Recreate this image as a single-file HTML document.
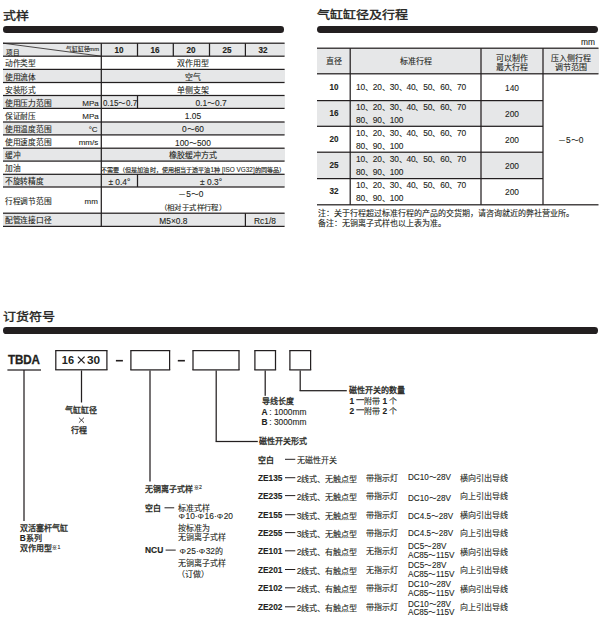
<!DOCTYPE html>
<html lang="zh-CN"><head><meta charset="utf-8">
<style>
html,body{margin:0;padding:0;background:#fff;}
body{width:603px;height:618px;position:relative;overflow:hidden;font-family:"Liberation Sans",sans-serif;}
body>div{position:absolute;}
.t{white-space:nowrap;}
b{font-weight:700;-webkit-text-stroke:0;}
.l{-webkit-text-stroke:0.1px;}
sup{font-size:62%;line-height:1;vertical-align:top;position:relative;top:0.6px;margin-left:0.6px;-webkit-text-stroke:0.15px;}
</style></head><body>
<div class="t" style="left:3.00px;top:8.70px;font-size:12px;line-height:15.60px;font-weight:400;color:#231f20;-webkit-text-stroke:0.372px #231f20;transform:scale(1.0820,0.9417);transform-origin:0 50%;">式样</div>
<div class="t" style="left:317.00px;top:8.40px;font-size:12px;line-height:15.60px;font-weight:400;color:#231f20;-webkit-text-stroke:0.372px #231f20;transform:scale(1.0820,0.9417);transform-origin:0 50%;">气缸缸径及行程</div>
<div class="t" style="left:3.00px;top:309.60px;font-size:12px;line-height:15.60px;font-weight:400;color:#231f20;-webkit-text-stroke:0.372px #231f20;transform:scale(1.0820,0.9417);transform-origin:0 50%;">订货符号</div>
<div style="left:3.30px;top:26.40px;width:280.90px;height:6.50px;background:#231f20;border-radius:3.25px;"></div>
<div style="left:317.00px;top:26.20px;width:281.20px;height:6.80px;background:#231f20;border-radius:3.4000000000000004px;"></div>
<div style="left:3.00px;top:327.30px;width:595.20px;height:6.70px;background:#231f20;border-radius:3.3499999999999943px;"></div>
<div style="left:3.00px;top:43.00px;width:281.60px;height:13.00px;background:#e6e7e8;"></div>
<div style="left:3.00px;top:69.00px;width:281.60px;height:13.00px;background:#e6e7e8;"></div>
<div style="left:3.00px;top:96.00px;width:281.60px;height:12.00px;background:#e6e7e8;"></div>
<div style="left:3.00px;top:122.00px;width:281.60px;height:13.00px;background:#e6e7e8;"></div>
<div style="left:3.00px;top:148.00px;width:281.60px;height:13.00px;background:#e6e7e8;"></div>
<div style="left:3.00px;top:174.00px;width:281.60px;height:13.00px;background:#e6e7e8;"></div>
<div style="left:3.00px;top:213.00px;width:281.60px;height:13.00px;background:#e6e7e8;"></div>
<div style="left:3px;top:42px;width:281px;height:1px;background:rgba(35,31,32,0.425)"></div>
<div style="left:3px;top:43px;width:281px;height:1px;background:rgba(35,31,32,0.825)"></div>
<div style="left:284px;top:42px;width:1px;height:1px;background:rgba(35,31,32,0.255)"></div>
<div style="left:284px;top:43px;width:1px;height:1px;background:rgba(35,31,32,0.495)"></div>
<div style="left:3px;top:55px;width:281px;height:1px;background:rgba(35,31,32,0.425)"></div>
<div style="left:3px;top:56px;width:281px;height:1px;background:rgba(35,31,32,0.825)"></div>
<div style="left:284px;top:55px;width:1px;height:1px;background:rgba(35,31,32,0.255)"></div>
<div style="left:284px;top:56px;width:1px;height:1px;background:rgba(35,31,32,0.495)"></div>
<div style="left:3px;top:68px;width:281px;height:1px;background:rgba(35,31,32,0.225)"></div>
<div style="left:3px;top:69px;width:281px;height:1px;background:rgba(35,31,32,1.000)"></div>
<div style="left:284px;top:68px;width:1px;height:1px;background:rgba(35,31,32,0.135)"></div>
<div style="left:284px;top:69px;width:1px;height:1px;background:rgba(35,31,32,0.600)"></div>
<div style="left:3px;top:81px;width:281px;height:1px;background:rgba(35,31,32,0.125)"></div>
<div style="left:3px;top:82px;width:281px;height:1px;background:rgba(35,31,32,1.000)"></div>
<div style="left:3px;top:83px;width:281px;height:1px;background:rgba(35,31,32,0.125)"></div>
<div style="left:284px;top:81px;width:1px;height:1px;background:rgba(35,31,32,0.075)"></div>
<div style="left:284px;top:82px;width:1px;height:1px;background:rgba(35,31,32,0.600)"></div>
<div style="left:284px;top:83px;width:1px;height:1px;background:rgba(35,31,32,0.075)"></div>
<div style="left:3px;top:94px;width:281px;height:1px;background:rgba(35,31,32,0.125)"></div>
<div style="left:3px;top:95px;width:281px;height:1px;background:rgba(35,31,32,1.000)"></div>
<div style="left:3px;top:96px;width:281px;height:1px;background:rgba(35,31,32,0.125)"></div>
<div style="left:284px;top:94px;width:1px;height:1px;background:rgba(35,31,32,0.075)"></div>
<div style="left:284px;top:95px;width:1px;height:1px;background:rgba(35,31,32,0.600)"></div>
<div style="left:284px;top:96px;width:1px;height:1px;background:rgba(35,31,32,0.075)"></div>
<div style="left:3px;top:107px;width:281px;height:1px;background:rgba(35,31,32,0.225)"></div>
<div style="left:3px;top:108px;width:281px;height:1px;background:rgba(35,31,32,1.000)"></div>
<div style="left:284px;top:107px;width:1px;height:1px;background:rgba(35,31,32,0.135)"></div>
<div style="left:284px;top:108px;width:1px;height:1px;background:rgba(35,31,32,0.600)"></div>
<div style="left:3px;top:121px;width:281px;height:1px;background:rgba(35,31,32,0.625)"></div>
<div style="left:3px;top:122px;width:281px;height:1px;background:rgba(35,31,32,0.625)"></div>
<div style="left:284px;top:121px;width:1px;height:1px;background:rgba(35,31,32,0.375)"></div>
<div style="left:284px;top:122px;width:1px;height:1px;background:rgba(35,31,32,0.375)"></div>
<div style="left:3px;top:134px;width:281px;height:1px;background:rgba(35,31,32,0.725)"></div>
<div style="left:3px;top:135px;width:281px;height:1px;background:rgba(35,31,32,0.525)"></div>
<div style="left:284px;top:134px;width:1px;height:1px;background:rgba(35,31,32,0.435)"></div>
<div style="left:284px;top:135px;width:1px;height:1px;background:rgba(35,31,32,0.315)"></div>
<div style="left:3px;top:147px;width:281px;height:1px;background:rgba(35,31,32,0.425)"></div>
<div style="left:3px;top:148px;width:281px;height:1px;background:rgba(35,31,32,0.825)"></div>
<div style="left:284px;top:147px;width:1px;height:1px;background:rgba(35,31,32,0.255)"></div>
<div style="left:284px;top:148px;width:1px;height:1px;background:rgba(35,31,32,0.495)"></div>
<div style="left:3px;top:160px;width:281px;height:1px;background:rgba(35,31,32,0.525)"></div>
<div style="left:3px;top:161px;width:281px;height:1px;background:rgba(35,31,32,0.725)"></div>
<div style="left:284px;top:160px;width:1px;height:1px;background:rgba(35,31,32,0.315)"></div>
<div style="left:284px;top:161px;width:1px;height:1px;background:rgba(35,31,32,0.435)"></div>
<div style="left:3px;top:173px;width:281px;height:1px;background:rgba(35,31,32,0.325)"></div>
<div style="left:3px;top:174px;width:281px;height:1px;background:rgba(35,31,32,0.925)"></div>
<div style="left:284px;top:173px;width:1px;height:1px;background:rgba(35,31,32,0.195)"></div>
<div style="left:284px;top:174px;width:1px;height:1px;background:rgba(35,31,32,0.555)"></div>
<div style="left:3px;top:186px;width:281px;height:1px;background:rgba(35,31,32,0.625)"></div>
<div style="left:3px;top:187px;width:281px;height:1px;background:rgba(35,31,32,0.625)"></div>
<div style="left:284px;top:186px;width:1px;height:1px;background:rgba(35,31,32,0.375)"></div>
<div style="left:284px;top:187px;width:1px;height:1px;background:rgba(35,31,32,0.375)"></div>
<div style="left:3px;top:212px;width:281px;height:1px;background:rgba(35,31,32,0.425)"></div>
<div style="left:3px;top:213px;width:281px;height:1px;background:rgba(35,31,32,0.825)"></div>
<div style="left:284px;top:212px;width:1px;height:1px;background:rgba(35,31,32,0.255)"></div>
<div style="left:284px;top:213px;width:1px;height:1px;background:rgba(35,31,32,0.495)"></div>
<div style="left:3px;top:225px;width:281px;height:1px;background:rgba(35,31,32,0.225)"></div>
<div style="left:3px;top:226px;width:281px;height:1px;background:rgba(35,31,32,1.000)"></div>
<div style="left:284px;top:225px;width:1px;height:1px;background:rgba(35,31,32,0.135)"></div>
<div style="left:284px;top:226px;width:1px;height:1px;background:rgba(35,31,32,0.600)"></div>
<div style="left:100px;top:43px;width:1px;height:1px;background:rgba(35,31,32,0.260)"></div>
<div style="left:100px;top:44px;width:1px;height:182px;background:rgba(35,31,32,0.325)"></div>
<div style="left:100px;top:226px;width:1px;height:1px;background:rgba(35,31,32,0.130)"></div>
<div style="left:101px;top:43px;width:1px;height:1px;background:rgba(35,31,32,0.740)"></div>
<div style="left:101px;top:44px;width:1px;height:182px;background:rgba(35,31,32,0.925)"></div>
<div style="left:101px;top:226px;width:1px;height:1px;background:rgba(35,31,32,0.370)"></div>
<div style="left:136px;top:43px;width:1px;height:1px;background:rgba(35,31,32,0.100)"></div>
<div style="left:136px;top:44px;width:1px;height:12px;background:rgba(35,31,32,0.125)"></div>
<div style="left:137px;top:43px;width:1px;height:1px;background:rgba(35,31,32,0.800)"></div>
<div style="left:137px;top:44px;width:1px;height:12px;background:rgba(35,31,32,1.000)"></div>
<div style="left:137px;top:56px;width:1px;height:1px;background:rgba(35,31,32,0.200)"></div>
<div style="left:138px;top:43px;width:1px;height:1px;background:rgba(35,31,32,0.100)"></div>
<div style="left:138px;top:44px;width:1px;height:12px;background:rgba(35,31,32,0.125)"></div>
<div style="left:172px;top:43px;width:1px;height:1px;background:rgba(35,31,32,0.260)"></div>
<div style="left:172px;top:44px;width:1px;height:12px;background:rgba(35,31,32,0.325)"></div>
<div style="left:172px;top:56px;width:1px;height:1px;background:rgba(35,31,32,0.065)"></div>
<div style="left:173px;top:43px;width:1px;height:1px;background:rgba(35,31,32,0.740)"></div>
<div style="left:173px;top:44px;width:1px;height:12px;background:rgba(35,31,32,0.925)"></div>
<div style="left:173px;top:56px;width:1px;height:1px;background:rgba(35,31,32,0.185)"></div>
<div style="left:208px;top:43px;width:1px;height:1px;background:rgba(35,31,32,0.100)"></div>
<div style="left:208px;top:44px;width:1px;height:12px;background:rgba(35,31,32,0.125)"></div>
<div style="left:209px;top:43px;width:1px;height:1px;background:rgba(35,31,32,0.800)"></div>
<div style="left:209px;top:44px;width:1px;height:12px;background:rgba(35,31,32,1.000)"></div>
<div style="left:209px;top:56px;width:1px;height:1px;background:rgba(35,31,32,0.200)"></div>
<div style="left:210px;top:43px;width:1px;height:1px;background:rgba(35,31,32,0.100)"></div>
<div style="left:210px;top:44px;width:1px;height:12px;background:rgba(35,31,32,0.125)"></div>
<div style="left:244px;top:43px;width:1px;height:1px;background:rgba(35,31,32,0.180)"></div>
<div style="left:244px;top:44px;width:1px;height:12px;background:rgba(35,31,32,0.225)"></div>
<div style="left:244px;top:56px;width:1px;height:1px;background:rgba(35,31,32,0.045)"></div>
<div style="left:245px;top:43px;width:1px;height:1px;background:rgba(35,31,32,0.800)"></div>
<div style="left:245px;top:44px;width:1px;height:12px;background:rgba(35,31,32,1.000)"></div>
<div style="left:245px;top:56px;width:1px;height:1px;background:rgba(35,31,32,0.200)"></div>
<div style="left:136px;top:95px;width:1px;height:1px;background:rgba(35,31,32,0.062)"></div>
<div style="left:136px;top:96px;width:1px;height:12px;background:rgba(35,31,32,0.125)"></div>
<div style="left:136px;top:108px;width:1px;height:1px;background:rgba(35,31,32,0.050)"></div>
<div style="left:137px;top:95px;width:1px;height:1px;background:rgba(35,31,32,0.500)"></div>
<div style="left:137px;top:96px;width:1px;height:12px;background:rgba(35,31,32,1.000)"></div>
<div style="left:137px;top:108px;width:1px;height:1px;background:rgba(35,31,32,0.400)"></div>
<div style="left:138px;top:95px;width:1px;height:1px;background:rgba(35,31,32,0.062)"></div>
<div style="left:138px;top:96px;width:1px;height:12px;background:rgba(35,31,32,0.125)"></div>
<div style="left:138px;top:108px;width:1px;height:1px;background:rgba(35,31,32,0.050)"></div>
<div style="left:136px;top:174px;width:1px;height:1px;background:rgba(35,31,32,0.087)"></div>
<div style="left:136px;top:175px;width:1px;height:12px;background:rgba(35,31,32,0.125)"></div>
<div style="left:137px;top:174px;width:1px;height:1px;background:rgba(35,31,32,0.700)"></div>
<div style="left:137px;top:175px;width:1px;height:12px;background:rgba(35,31,32,1.000)"></div>
<div style="left:138px;top:174px;width:1px;height:1px;background:rgba(35,31,32,0.087)"></div>
<div style="left:138px;top:175px;width:1px;height:12px;background:rgba(35,31,32,0.125)"></div>
<div style="left:244px;top:213px;width:1px;height:1px;background:rgba(35,31,32,0.180)"></div>
<div style="left:244px;top:214px;width:1px;height:12px;background:rgba(35,31,32,0.225)"></div>
<div style="left:244px;top:226px;width:1px;height:1px;background:rgba(35,31,32,0.090)"></div>
<div style="left:245px;top:213px;width:1px;height:1px;background:rgba(35,31,32,0.800)"></div>
<div style="left:245px;top:214px;width:1px;height:12px;background:rgba(35,31,32,1.000)"></div>
<div style="left:245px;top:226px;width:1px;height:1px;background:rgba(35,31,32,0.400)"></div>
<svg style="position:absolute;left:0;top:0" width="603" height="618"><line x1="3.0" y1="43.2" x2="101.3" y2="56.2" stroke="#231f20" stroke-width="0.8"/></svg>
<div class="t" style="left:6.00px;top:47.65px;font-size:7px;line-height:9.10px;font-weight:400;color:#231f20;-webkit-text-stroke:0.127px #231f20;transform:scale(0.9429,0.9429);transform-origin:0 50%;">项目</div>
<div class="t" style="left:-500.70px;width:600px;text-align:right;top:45.60px;font-size:6px;line-height:7.80px;font-weight:400;color:#231f20;-webkit-text-stroke:0.124px #231f20;transform:scale(0.9667,0.9667);transform-origin:100% 50%;">气缸缸径mm</div>
<div class="t" style="left:-180.80px;width:600px;text-align:center;top:44.65px;font-size:9px;line-height:11.70px;font-weight:700;color:#231f20;-webkit-text-stroke:0.150px #231f20;transform:scale(0.9000,1.0000);transform-origin:50% 50%;">10</div>
<div class="t" style="left:-145.10px;width:600px;text-align:center;top:44.65px;font-size:9px;line-height:11.70px;font-weight:700;color:#231f20;-webkit-text-stroke:0.150px #231f20;transform:scale(0.9000,1.0000);transform-origin:50% 50%;">16</div>
<div class="t" style="left:-109.00px;width:600px;text-align:center;top:44.65px;font-size:9px;line-height:11.70px;font-weight:700;color:#231f20;-webkit-text-stroke:0.150px #231f20;transform:scale(0.9000,1.0000);transform-origin:50% 50%;">20</div>
<div class="t" style="left:-73.00px;width:600px;text-align:center;top:44.65px;font-size:9px;line-height:11.70px;font-weight:700;color:#231f20;-webkit-text-stroke:0.150px #231f20;transform:scale(0.9000,1.0000);transform-origin:50% 50%;">25</div>
<div class="t" style="left:-37.10px;width:600px;text-align:center;top:44.65px;font-size:9px;line-height:11.70px;font-weight:700;color:#231f20;-webkit-text-stroke:0.150px #231f20;transform:scale(0.9000,1.0000);transform-origin:50% 50%;">32</div>
<div class="t" style="left:5.20px;top:59.40px;font-size:8px;line-height:10.40px;font-weight:400;color:#231f20;-webkit-text-stroke:0.104px #231f20;transform:scale(0.9625,0.9625);transform-origin:0 50%;">动作类型</div>
<div class="t" style="left:5.20px;top:72.55px;font-size:8px;line-height:10.40px;font-weight:400;color:#231f20;-webkit-text-stroke:0.104px #231f20;transform:scale(0.9625,0.9625);transform-origin:0 50%;">使用流体</div>
<div class="t" style="left:5.20px;top:85.60px;font-size:8px;line-height:10.40px;font-weight:400;color:#231f20;-webkit-text-stroke:0.104px #231f20;transform:scale(0.9625,0.9625);transform-origin:0 50%;">安装形式</div>
<div class="t" style="left:5.20px;top:98.55px;font-size:8px;line-height:10.40px;font-weight:400;color:#231f20;-webkit-text-stroke:0.104px #231f20;transform:scale(0.9625,0.9625);transform-origin:0 50%;">使用压力范围</div>
<div class="t" style="left:-501.20px;width:600px;text-align:right;top:98.75px;font-size:8px;line-height:10.40px;font-weight:400;color:#231f20;-webkit-text-stroke:0.100px #231f20;">MPa</div>
<div class="t" style="left:5.20px;top:111.80px;font-size:8px;line-height:10.40px;font-weight:400;color:#231f20;-webkit-text-stroke:0.104px #231f20;transform:scale(0.9625,0.9625);transform-origin:0 50%;">保证耐压</div>
<div class="t" style="left:-501.20px;width:600px;text-align:right;top:112.00px;font-size:8px;line-height:10.40px;font-weight:400;color:#231f20;-webkit-text-stroke:0.100px #231f20;">MPa</div>
<div class="t" style="left:5.20px;top:125.05px;font-size:8px;line-height:10.40px;font-weight:400;color:#231f20;-webkit-text-stroke:0.104px #231f20;transform:scale(0.9625,0.9625);transform-origin:0 50%;">使用温度范围</div>
<div class="t" style="left:-502.40px;width:600px;text-align:right;top:125.25px;font-size:8px;line-height:10.40px;font-weight:400;color:#231f20;-webkit-text-stroke:0.100px #231f20;">°C</div>
<div class="t" style="left:5.20px;top:138.15px;font-size:8px;line-height:10.40px;font-weight:400;color:#231f20;-webkit-text-stroke:0.104px #231f20;transform:scale(0.9625,0.9625);transform-origin:0 50%;">使用速度范围</div>
<div class="t" style="left:-501.80px;width:600px;text-align:right;top:138.35px;font-size:8px;line-height:10.40px;font-weight:400;color:#231f20;-webkit-text-stroke:0.100px #231f20;">mm/s</div>
<div class="t" style="left:5.20px;top:151.25px;font-size:8px;line-height:10.40px;font-weight:400;color:#231f20;-webkit-text-stroke:0.104px #231f20;transform:scale(0.9625,0.9625);transform-origin:0 50%;">缓冲</div>
<div class="t" style="left:5.20px;top:164.30px;font-size:8px;line-height:10.40px;font-weight:400;color:#231f20;-webkit-text-stroke:0.104px #231f20;transform:scale(0.9625,0.9625);transform-origin:0 50%;">加油</div>
<div class="t" style="left:5.20px;top:177.25px;font-size:8px;line-height:10.40px;font-weight:400;color:#231f20;-webkit-text-stroke:0.104px #231f20;transform:scale(0.9625,0.9625);transform-origin:0 50%;">不旋转精度</div>
<div class="t" style="left:5.20px;top:196.70px;font-size:8px;line-height:10.40px;font-weight:400;color:#231f20;-webkit-text-stroke:0.104px #231f20;transform:scale(0.9625,0.9625);transform-origin:0 50%;">行程调节范围</div>
<div class="t" style="left:-502.10px;width:600px;text-align:right;top:196.90px;font-size:8px;line-height:10.40px;font-weight:400;color:#231f20;-webkit-text-stroke:0.100px #231f20;">mm</div>
<div class="t" style="left:5.20px;top:216.40px;font-size:8px;line-height:10.40px;font-weight:400;color:#231f20;-webkit-text-stroke:0.104px #231f20;transform:scale(0.9625,0.9625);transform-origin:0 50%;">配管连接口径</div>
<div class="t" style="left:-107.05px;width:600px;text-align:center;top:59.40px;font-size:8px;line-height:10.40px;font-weight:400;color:#231f20;-webkit-text-stroke:0.100px #231f20;">双作用型</div>
<div class="t" style="left:-107.05px;width:600px;text-align:center;top:72.55px;font-size:8px;line-height:10.40px;font-weight:400;color:#231f20;-webkit-text-stroke:0.100px #231f20;">空气</div>
<div class="t" style="left:-107.05px;width:600px;text-align:center;top:85.60px;font-size:8px;line-height:10.40px;font-weight:400;color:#231f20;-webkit-text-stroke:0.100px #231f20;">单侧支架</div>
<div class="t" style="left:-180.40px;width:600px;text-align:center;top:97.95px;font-size:8px;line-height:10.40px;font-weight:400;color:#231f20;-webkit-text-stroke:0.100px #231f20;transform:scale(0.9500,1.0000);transform-origin:50% 50%;"><span class="l" style="font-size:1.05em">0.15</span>～<span class="l" style="font-size:1.05em">0.7</span></div>
<div class="t" style="left:-88.95px;width:600px;text-align:center;top:97.95px;font-size:8px;line-height:10.40px;font-weight:400;color:#231f20;-webkit-text-stroke:0.100px #231f20;"><span class="l" style="font-size:1.05em">0.1</span>～<span class="l" style="font-size:1.05em">0.7</span></div>
<div class="t" style="left:-107.05px;width:600px;text-align:center;top:111.20px;font-size:8px;line-height:10.40px;font-weight:400;color:#231f20;-webkit-text-stroke:0.100px #231f20;"><span class="l" style="font-size:1.05em">1.05</span></div>
<div class="t" style="left:-107.05px;width:600px;text-align:center;top:124.45px;font-size:8px;line-height:10.40px;font-weight:400;color:#231f20;-webkit-text-stroke:0.100px #231f20;"><span class="l" style="font-size:1.05em">0</span>～<span class="l" style="font-size:1.05em">60</span></div>
<div class="t" style="left:-107.05px;width:600px;text-align:center;top:137.55px;font-size:8px;line-height:10.40px;font-weight:400;color:#231f20;-webkit-text-stroke:0.100px #231f20;"><span class="l" style="font-size:1.05em">100</span>～<span class="l" style="font-size:1.05em">500</span></div>
<div class="t" style="left:-107.05px;width:600px;text-align:center;top:151.25px;font-size:8px;line-height:10.40px;font-weight:400;color:#231f20;-webkit-text-stroke:0.100px #231f20;">橡胶缓冲方式</div>
<div class="t" style="left:-106.70px;width:600px;text-align:center;top:164.85px;font-size:7px;line-height:9.10px;font-weight:400;color:#231f20;-webkit-text-stroke:0.172px #231f20;transform:scale(0.8714,0.8714);transform-origin:50% 50%;">不需要（但是加油时，使用相当于透平油<span class="l" style="font-size:1.05em">1</span>种 <span class="l" style="font-size:1.05em">[ISO VG32]</span>的同等品）</div>
<div class="t" style="left:-180.60px;width:600px;text-align:center;top:176.65px;font-size:8px;line-height:10.40px;font-weight:400;color:#231f20;-webkit-text-stroke:0.100px #231f20;"><span class="l" style="font-size:1.05em">± 0.4</span><span class="l" style="font-size:1.05em">°</span></div>
<div class="t" style="left:-88.95px;width:600px;text-align:center;top:176.65px;font-size:8px;line-height:10.40px;font-weight:400;color:#231f20;-webkit-text-stroke:0.100px #231f20;"><span class="l" style="font-size:1.05em">± 0.3</span><span class="l" style="font-size:1.05em">°</span></div>
<div class="t" style="left:-109.20px;width:600px;text-align:center;top:189.00px;font-size:8px;line-height:10.40px;font-weight:400;color:#231f20;-webkit-text-stroke:0.100px #231f20;">－<span class="l" style="font-size:1.05em">5</span>～<span class="l" style="font-size:1.05em">0</span></div>
<div class="t" style="left:-107.05px;width:600px;text-align:center;top:202.70px;font-size:8px;line-height:10.40px;font-weight:400;color:#231f20;-webkit-text-stroke:0.108px #231f20;transform:scale(0.9250,0.9250);transform-origin:50% 50%;">（相对于式样行程）</div>
<div class="t" style="left:-126.65px;width:600px;text-align:center;top:215.80px;font-size:8px;line-height:10.40px;font-weight:400;color:#231f20;-webkit-text-stroke:0.100px #231f20;"><span class="l" style="font-size:1.05em">M5×0.8</span></div>
<div class="t" style="left:-35.00px;width:600px;text-align:center;top:215.80px;font-size:8px;line-height:10.40px;font-weight:400;color:#231f20;-webkit-text-stroke:0.100px #231f20;"><span class="l" style="font-size:1.05em">Rc1/8</span></div>
<div class="t" style="left:-4.70px;width:600px;text-align:right;top:36.75px;font-size:9px;line-height:11.70px;font-weight:400;color:#231f20;-webkit-text-stroke:0.107px #231f20;transform:scale(0.9333,0.9333);transform-origin:100% 50%;">mm</div>
<div style="left:317.00px;top:48.00px;width:281.50px;height:26.00px;background:#e6e7e8;"></div>
<div style="left:317.00px;top:101.00px;width:226.00px;height:25.00px;background:#e6e7e8;"></div>
<div style="left:317.00px;top:152.00px;width:226.00px;height:27.00px;background:#e6e7e8;"></div>
<div style="left:317px;top:47px;width:281px;height:1px;background:rgba(35,31,32,0.425)"></div>
<div style="left:317px;top:48px;width:281px;height:1px;background:rgba(35,31,32,0.825)"></div>
<div style="left:598px;top:47px;width:1px;height:1px;background:rgba(35,31,32,0.212)"></div>
<div style="left:598px;top:48px;width:1px;height:1px;background:rgba(35,31,32,0.413)"></div>
<div style="left:317px;top:73px;width:281px;height:1px;background:rgba(35,31,32,0.825)"></div>
<div style="left:317px;top:74px;width:281px;height:1px;background:rgba(35,31,32,0.425)"></div>
<div style="left:598px;top:73px;width:1px;height:1px;background:rgba(35,31,32,0.413)"></div>
<div style="left:598px;top:74px;width:1px;height:1px;background:rgba(35,31,32,0.212)"></div>
<div style="left:317px;top:100px;width:226px;height:1px;background:rgba(35,31,32,1.000)"></div>
<div style="left:317px;top:101px;width:226px;height:1px;background:rgba(35,31,32,0.225)"></div>
<div style="left:317px;top:125px;width:226px;height:1px;background:rgba(35,31,32,0.325)"></div>
<div style="left:317px;top:126px;width:226px;height:1px;background:rgba(35,31,32,0.925)"></div>
<div style="left:317px;top:151px;width:226px;height:1px;background:rgba(35,31,32,0.425)"></div>
<div style="left:317px;top:152px;width:226px;height:1px;background:rgba(35,31,32,0.825)"></div>
<div style="left:317px;top:178px;width:226px;height:1px;background:rgba(35,31,32,1.000)"></div>
<div style="left:317px;top:179px;width:226px;height:1px;background:rgba(35,31,32,0.225)"></div>
<div style="left:317px;top:204px;width:281px;height:1px;background:rgba(35,31,32,0.825)"></div>
<div style="left:317px;top:205px;width:281px;height:1px;background:rgba(35,31,32,0.425)"></div>
<div style="left:598px;top:204px;width:1px;height:1px;background:rgba(35,31,32,0.412)"></div>
<div style="left:598px;top:205px;width:1px;height:1px;background:rgba(35,31,32,0.213)"></div>
<div style="left:349px;top:48px;width:1px;height:1px;background:rgba(35,31,32,0.340)"></div>
<div style="left:349px;top:49px;width:1px;height:155px;background:rgba(35,31,32,0.425)"></div>
<div style="left:349px;top:204px;width:1px;height:1px;background:rgba(35,31,32,0.340)"></div>
<div style="left:350px;top:48px;width:1px;height:1px;background:rgba(35,31,32,0.660)"></div>
<div style="left:350px;top:49px;width:1px;height:155px;background:rgba(35,31,32,0.825)"></div>
<div style="left:350px;top:204px;width:1px;height:1px;background:rgba(35,31,32,0.660)"></div>
<div style="left:480px;top:48px;width:1px;height:1px;background:rgba(35,31,32,0.500)"></div>
<div style="left:480px;top:49px;width:1px;height:155px;background:rgba(35,31,32,0.625)"></div>
<div style="left:480px;top:204px;width:1px;height:1px;background:rgba(35,31,32,0.500)"></div>
<div style="left:481px;top:48px;width:1px;height:1px;background:rgba(35,31,32,0.500)"></div>
<div style="left:481px;top:49px;width:1px;height:155px;background:rgba(35,31,32,0.625)"></div>
<div style="left:481px;top:204px;width:1px;height:1px;background:rgba(35,31,32,0.500)"></div>
<div style="left:542px;top:48px;width:1px;height:1px;background:rgba(35,31,32,0.500)"></div>
<div style="left:542px;top:49px;width:1px;height:155px;background:rgba(35,31,32,0.625)"></div>
<div style="left:542px;top:204px;width:1px;height:1px;background:rgba(35,31,32,0.500)"></div>
<div style="left:543px;top:48px;width:1px;height:1px;background:rgba(35,31,32,0.500)"></div>
<div style="left:543px;top:49px;width:1px;height:155px;background:rgba(35,31,32,0.625)"></div>
<div style="left:543px;top:204px;width:1px;height:1px;background:rgba(35,31,32,0.500)"></div>
<div class="t" style="left:33.60px;width:600px;text-align:center;top:56.70px;font-size:8px;line-height:10.40px;font-weight:400;color:#231f20;-webkit-text-stroke:0.100px #231f20;">直径</div>
<div class="t" style="left:115.60px;width:600px;text-align:center;top:56.70px;font-size:8px;line-height:10.40px;font-weight:400;color:#231f20;-webkit-text-stroke:0.100px #231f20;">标准行程</div>
<div class="t" style="left:212.00px;width:600px;text-align:center;top:53.60px;font-size:8px;line-height:10.40px;font-weight:400;color:#231f20;-webkit-text-stroke:0.100px #231f20;">可以制作</div>
<div class="t" style="left:212.00px;width:600px;text-align:center;top:63.00px;font-size:8px;line-height:10.40px;font-weight:400;color:#231f20;-webkit-text-stroke:0.100px #231f20;">最大行程</div>
<div class="t" style="left:270.75px;width:600px;text-align:center;top:53.60px;font-size:8px;line-height:10.40px;font-weight:400;color:#231f20;-webkit-text-stroke:0.100px #231f20;">压入侧行程</div>
<div class="t" style="left:270.75px;width:600px;text-align:center;top:63.00px;font-size:8px;line-height:10.40px;font-weight:400;color:#231f20;-webkit-text-stroke:0.100px #231f20;">调节范围</div>
<div class="t" style="left:33.60px;width:600px;text-align:center;top:81.85px;font-size:9px;line-height:11.70px;font-weight:700;color:#231f20;-webkit-text-stroke:0.120px #231f20;transform:scale(0.9000,1.0000);transform-origin:50% 50%;">10</div>
<div class="t" style="left:212.00px;width:600px;text-align:center;top:82.90px;font-size:8px;line-height:10.40px;font-weight:400;color:#231f20;-webkit-text-stroke:0.100px #231f20;"><span class="l" style="font-size:1.05em">140</span></div>
<div class="t" style="left:356.00px;top:82.10px;font-size:8px;line-height:10.40px;font-weight:400;color:#231f20;letter-spacing:-0.17px;-webkit-text-stroke:0.100px #231f20;"><span class="l" style="font-size:1.05em">10</span>、<span class="l" style="font-size:1.05em">20</span>、<span class="l" style="font-size:1.05em">30</span>、<span class="l" style="font-size:1.05em">40</span>、<span class="l" style="font-size:1.05em">50</span>、<span class="l" style="font-size:1.05em">60</span>、<span class="l" style="font-size:1.05em">70</span></div>
<div class="t" style="left:33.60px;width:600px;text-align:center;top:108.10px;font-size:9px;line-height:11.70px;font-weight:700;color:#231f20;-webkit-text-stroke:0.120px #231f20;transform:scale(0.9000,1.0000);transform-origin:50% 50%;">16</div>
<div class="t" style="left:212.00px;width:600px;text-align:center;top:109.15px;font-size:8px;line-height:10.40px;font-weight:400;color:#231f20;-webkit-text-stroke:0.100px #231f20;"><span class="l" style="font-size:1.05em">200</span></div>
<div class="t" style="left:356.00px;top:101.85px;font-size:8px;line-height:10.40px;font-weight:400;color:#231f20;letter-spacing:-0.17px;-webkit-text-stroke:0.100px #231f20;"><span class="l" style="font-size:1.05em">10</span>、<span class="l" style="font-size:1.05em">20</span>、<span class="l" style="font-size:1.05em">30</span>、<span class="l" style="font-size:1.05em">40</span>、<span class="l" style="font-size:1.05em">50</span>、<span class="l" style="font-size:1.05em">60</span>、<span class="l" style="font-size:1.05em">70</span></div>
<div class="t" style="left:356.00px;top:115.15px;font-size:8px;line-height:10.40px;font-weight:400;color:#231f20;letter-spacing:-0.17px;-webkit-text-stroke:0.100px #231f20;"><span class="l" style="font-size:1.05em">80</span>、<span class="l" style="font-size:1.05em">90</span>、<span class="l" style="font-size:1.05em">100</span></div>
<div class="t" style="left:33.60px;width:600px;text-align:center;top:133.90px;font-size:9px;line-height:11.70px;font-weight:700;color:#231f20;-webkit-text-stroke:0.120px #231f20;transform:scale(0.9000,1.0000);transform-origin:50% 50%;">20</div>
<div class="t" style="left:212.00px;width:600px;text-align:center;top:134.95px;font-size:8px;line-height:10.40px;font-weight:400;color:#231f20;-webkit-text-stroke:0.100px #231f20;"><span class="l" style="font-size:1.05em">200</span></div>
<div class="t" style="left:356.00px;top:127.65px;font-size:8px;line-height:10.40px;font-weight:400;color:#231f20;letter-spacing:-0.17px;-webkit-text-stroke:0.100px #231f20;"><span class="l" style="font-size:1.05em">10</span>、<span class="l" style="font-size:1.05em">20</span>、<span class="l" style="font-size:1.05em">30</span>、<span class="l" style="font-size:1.05em">40</span>、<span class="l" style="font-size:1.05em">50</span>、<span class="l" style="font-size:1.05em">60</span>、<span class="l" style="font-size:1.05em">70</span></div>
<div class="t" style="left:356.00px;top:140.95px;font-size:8px;line-height:10.40px;font-weight:400;color:#231f20;letter-spacing:-0.17px;-webkit-text-stroke:0.100px #231f20;"><span class="l" style="font-size:1.05em">80</span>、<span class="l" style="font-size:1.05em">90</span>、<span class="l" style="font-size:1.05em">100</span></div>
<div class="t" style="left:33.60px;width:600px;text-align:center;top:160.05px;font-size:9px;line-height:11.70px;font-weight:700;color:#231f20;-webkit-text-stroke:0.120px #231f20;transform:scale(0.9000,1.0000);transform-origin:50% 50%;">25</div>
<div class="t" style="left:212.00px;width:600px;text-align:center;top:161.10px;font-size:8px;line-height:10.40px;font-weight:400;color:#231f20;-webkit-text-stroke:0.100px #231f20;"><span class="l" style="font-size:1.05em">200</span></div>
<div class="t" style="left:356.00px;top:153.80px;font-size:8px;line-height:10.40px;font-weight:400;color:#231f20;letter-spacing:-0.17px;-webkit-text-stroke:0.100px #231f20;"><span class="l" style="font-size:1.05em">10</span>、<span class="l" style="font-size:1.05em">20</span>、<span class="l" style="font-size:1.05em">30</span>、<span class="l" style="font-size:1.05em">40</span>、<span class="l" style="font-size:1.05em">50</span>、<span class="l" style="font-size:1.05em">60</span>、<span class="l" style="font-size:1.05em">70</span></div>
<div class="t" style="left:356.00px;top:167.10px;font-size:8px;line-height:10.40px;font-weight:400;color:#231f20;letter-spacing:-0.17px;-webkit-text-stroke:0.100px #231f20;"><span class="l" style="font-size:1.05em">80</span>、<span class="l" style="font-size:1.05em">90</span>、<span class="l" style="font-size:1.05em">100</span></div>
<div class="t" style="left:33.60px;width:600px;text-align:center;top:186.35px;font-size:9px;line-height:11.70px;font-weight:700;color:#231f20;-webkit-text-stroke:0.120px #231f20;transform:scale(0.9000,1.0000);transform-origin:50% 50%;">32</div>
<div class="t" style="left:212.00px;width:600px;text-align:center;top:187.40px;font-size:8px;line-height:10.40px;font-weight:400;color:#231f20;-webkit-text-stroke:0.100px #231f20;"><span class="l" style="font-size:1.05em">200</span></div>
<div class="t" style="left:356.00px;top:180.10px;font-size:8px;line-height:10.40px;font-weight:400;color:#231f20;letter-spacing:-0.17px;-webkit-text-stroke:0.100px #231f20;"><span class="l" style="font-size:1.05em">10</span>、<span class="l" style="font-size:1.05em">20</span>、<span class="l" style="font-size:1.05em">30</span>、<span class="l" style="font-size:1.05em">40</span>、<span class="l" style="font-size:1.05em">50</span>、<span class="l" style="font-size:1.05em">60</span>、<span class="l" style="font-size:1.05em">70</span></div>
<div class="t" style="left:356.00px;top:193.40px;font-size:8px;line-height:10.40px;font-weight:400;color:#231f20;letter-spacing:-0.17px;-webkit-text-stroke:0.100px #231f20;"><span class="l" style="font-size:1.05em">80</span>、<span class="l" style="font-size:1.05em">90</span>、<span class="l" style="font-size:1.05em">100</span></div>
<div class="t" style="left:270.75px;width:600px;text-align:center;top:135.00px;font-size:8px;line-height:10.40px;font-weight:400;color:#231f20;-webkit-text-stroke:0.100px #231f20;">－<span class="l" style="font-size:1.05em">5</span>～<span class="l" style="font-size:1.05em">0</span></div>
<div class="t" style="left:317.50px;top:209.10px;font-size:8px;line-height:10.40px;font-weight:400;color:#231f20;-webkit-text-stroke:0.100px #231f20;">注：关于行程超过标准行程的产品的交货期，请咨询就近的弊社营业所。</div>
<div class="t" style="left:317.50px;top:219.30px;font-size:8px;line-height:10.40px;font-weight:400;color:#231f20;-webkit-text-stroke:0.100px #231f20;">备注：无铜离子式样也以上表为准。</div>
<div class="t" style="left:7.90px;top:352.25px;font-size:13px;line-height:16.90px;font-weight:700;color:#231f20;letter-spacing:-0.2px;-webkit-text-stroke:0.315px #231f20;transform:scale(0.8966,0.9538);transform-origin:0 50%;">TBDA</div>
<div style="left:7px;top:369px;width:1px;height:1px;background:rgba(35,31,32,0.375)"></div>
<div style="left:7px;top:370px;width:1px;height:1px;background:rgba(35,31,32,0.375)"></div>
<div style="left:8px;top:369px;width:33px;height:1px;background:rgba(35,31,32,0.625)"></div>
<div style="left:8px;top:370px;width:33px;height:1px;background:rgba(35,31,32,0.625)"></div>
<div style="left:55px;top:350px;width:1px;height:1px;background:rgba(35,31,32,0.825)"></div>
<div style="left:55px;top:351px;width:1px;height:1px;background:rgba(35,31,32,0.186)"></div>
<div style="left:56px;top:350px;width:51px;height:1px;background:rgba(35,31,32,1.000)"></div>
<div style="left:56px;top:351px;width:51px;height:1px;background:rgba(35,31,32,0.225)"></div>
<div style="left:107px;top:350px;width:1px;height:1px;background:rgba(35,31,32,0.525)"></div>
<div style="left:107px;top:351px;width:1px;height:1px;background:rgba(35,31,32,0.118)"></div>
<div style="left:55px;top:369px;width:1px;height:1px;background:rgba(35,31,32,0.681)"></div>
<div style="left:55px;top:370px;width:1px;height:1px;background:rgba(35,31,32,0.351)"></div>
<div style="left:56px;top:369px;width:51px;height:1px;background:rgba(35,31,32,0.825)"></div>
<div style="left:56px;top:370px;width:51px;height:1px;background:rgba(35,31,32,0.425)"></div>
<div style="left:107px;top:369px;width:1px;height:1px;background:rgba(35,31,32,0.433)"></div>
<div style="left:107px;top:370px;width:1px;height:1px;background:rgba(35,31,32,0.223)"></div>
<div style="left:55px;top:350px;width:1px;height:1px;background:rgba(35,31,32,0.330)"></div>
<div style="left:55px;top:351px;width:1px;height:18px;background:rgba(35,31,32,0.825)"></div>
<div style="left:55px;top:369px;width:1px;height:1px;background:rgba(35,31,32,0.660)"></div>
<div style="left:56px;top:350px;width:1px;height:1px;background:rgba(35,31,32,0.170)"></div>
<div style="left:56px;top:351px;width:1px;height:18px;background:rgba(35,31,32,0.425)"></div>
<div style="left:56px;top:369px;width:1px;height:1px;background:rgba(35,31,32,0.340)"></div>
<div style="left:106px;top:350px;width:1px;height:1px;background:rgba(35,31,32,0.290)"></div>
<div style="left:106px;top:351px;width:1px;height:18px;background:rgba(35,31,32,0.725)"></div>
<div style="left:106px;top:369px;width:1px;height:1px;background:rgba(35,31,32,0.580)"></div>
<div style="left:107px;top:350px;width:1px;height:1px;background:rgba(35,31,32,0.210)"></div>
<div style="left:107px;top:351px;width:1px;height:18px;background:rgba(35,31,32,0.525)"></div>
<div style="left:107px;top:369px;width:1px;height:1px;background:rgba(35,31,32,0.420)"></div>
<div class="t" style="left:-525.70px;width:600px;text-align:right;top:353.10px;font-size:12px;line-height:15.60px;font-weight:700;color:#231f20;transform:scale(0.9145,0.9833);transform-origin:100% 50%;">16</div>
<div class="t" style="left:86.50px;top:353.10px;font-size:12px;line-height:15.60px;font-weight:700;color:#231f20;transform:scale(0.9833,0.9833);transform-origin:0 50%;">30</div>
<svg style="position:absolute;left:0;top:0" width="603" height="618"><path d="M77.9 356.6L84.6 363.4M84.6 356.6L77.9 363.4" stroke="#231f20" stroke-width="1.25" fill="none"/></svg>
<div style="left:115px;top:360px;width:1px;height:1px;background:rgba(35,31,32,0.100)"></div>
<div style="left:115px;top:361px;width:1px;height:1px;background:rgba(35,31,32,0.050)"></div>
<div style="left:116px;top:359px;width:6px;height:1px;background:rgba(35,31,32,0.100)"></div>
<div style="left:116px;top:360px;width:6px;height:1px;background:rgba(35,31,32,1.000)"></div>
<div style="left:116px;top:361px;width:6px;height:1px;background:rgba(35,31,32,0.500)"></div>
<div style="left:122px;top:359px;width:1px;height:1px;background:rgba(35,31,32,0.090)"></div>
<div style="left:122px;top:360px;width:1px;height:1px;background:rgba(35,31,32,0.900)"></div>
<div style="left:122px;top:361px;width:1px;height:1px;background:rgba(35,31,32,0.450)"></div>
<div style="left:177px;top:360px;width:1px;height:1px;background:rgba(35,31,32,0.200)"></div>
<div style="left:177px;top:361px;width:1px;height:1px;background:rgba(35,31,32,0.100)"></div>
<div style="left:178px;top:359px;width:6px;height:1px;background:rgba(35,31,32,0.100)"></div>
<div style="left:178px;top:360px;width:6px;height:1px;background:rgba(35,31,32,1.000)"></div>
<div style="left:178px;top:361px;width:6px;height:1px;background:rgba(35,31,32,0.500)"></div>
<div style="left:184px;top:359px;width:1px;height:1px;background:rgba(35,31,32,0.090)"></div>
<div style="left:184px;top:360px;width:1px;height:1px;background:rgba(35,31,32,0.900)"></div>
<div style="left:184px;top:361px;width:1px;height:1px;background:rgba(35,31,32,0.450)"></div>
<div style="left:130px;top:350px;width:1px;height:1px;background:rgba(35,31,32,0.725)"></div>
<div style="left:130px;top:351px;width:1px;height:1px;background:rgba(35,31,32,0.163)"></div>
<div style="left:131px;top:350px;width:39px;height:1px;background:rgba(35,31,32,1.000)"></div>
<div style="left:131px;top:351px;width:39px;height:1px;background:rgba(35,31,32,0.225)"></div>
<div style="left:170px;top:350px;width:1px;height:1px;background:rgba(35,31,32,0.225)"></div>
<div style="left:170px;top:351px;width:1px;height:1px;background:rgba(35,31,32,0.051)"></div>
<div style="left:130px;top:369px;width:1px;height:1px;background:rgba(35,31,32,0.526)"></div>
<div style="left:130px;top:370px;width:1px;height:1px;background:rgba(35,31,32,0.381)"></div>
<div style="left:131px;top:369px;width:39px;height:1px;background:rgba(35,31,32,0.725)"></div>
<div style="left:131px;top:370px;width:39px;height:1px;background:rgba(35,31,32,0.525)"></div>
<div style="left:170px;top:369px;width:1px;height:1px;background:rgba(35,31,32,0.163)"></div>
<div style="left:170px;top:370px;width:1px;height:1px;background:rgba(35,31,32,0.118)"></div>
<div style="left:130px;top:350px;width:1px;height:1px;background:rgba(35,31,32,0.290)"></div>
<div style="left:130px;top:351px;width:1px;height:18px;background:rgba(35,31,32,0.725)"></div>
<div style="left:130px;top:369px;width:1px;height:1px;background:rgba(35,31,32,0.652)"></div>
<div style="left:131px;top:350px;width:1px;height:1px;background:rgba(35,31,32,0.210)"></div>
<div style="left:131px;top:351px;width:1px;height:18px;background:rgba(35,31,32,0.525)"></div>
<div style="left:131px;top:369px;width:1px;height:1px;background:rgba(35,31,32,0.472)"></div>
<div style="left:169px;top:350px;width:1px;height:1px;background:rgba(35,31,32,0.400)"></div>
<div style="left:169px;top:351px;width:1px;height:18px;background:rgba(35,31,32,1.000)"></div>
<div style="left:169px;top:369px;width:1px;height:1px;background:rgba(35,31,32,0.900)"></div>
<div style="left:170px;top:350px;width:1px;height:1px;background:rgba(35,31,32,0.090)"></div>
<div style="left:170px;top:351px;width:1px;height:18px;background:rgba(35,31,32,0.225)"></div>
<div style="left:170px;top:369px;width:1px;height:1px;background:rgba(35,31,32,0.202)"></div>
<div style="left:192px;top:350px;width:1px;height:1px;background:rgba(35,31,32,0.625)"></div>
<div style="left:192px;top:351px;width:1px;height:1px;background:rgba(35,31,32,0.141)"></div>
<div style="left:193px;top:350px;width:46px;height:1px;background:rgba(35,31,32,1.000)"></div>
<div style="left:193px;top:351px;width:46px;height:1px;background:rgba(35,31,32,0.225)"></div>
<div style="left:239px;top:350px;width:1px;height:1px;background:rgba(35,31,32,0.625)"></div>
<div style="left:239px;top:351px;width:1px;height:1px;background:rgba(35,31,32,0.141)"></div>
<div style="left:192px;top:369px;width:1px;height:1px;background:rgba(35,31,32,0.453)"></div>
<div style="left:192px;top:370px;width:1px;height:1px;background:rgba(35,31,32,0.328)"></div>
<div style="left:193px;top:369px;width:46px;height:1px;background:rgba(35,31,32,0.725)"></div>
<div style="left:193px;top:370px;width:46px;height:1px;background:rgba(35,31,32,0.525)"></div>
<div style="left:239px;top:369px;width:1px;height:1px;background:rgba(35,31,32,0.453)"></div>
<div style="left:239px;top:370px;width:1px;height:1px;background:rgba(35,31,32,0.328)"></div>
<div style="left:192px;top:350px;width:1px;height:1px;background:rgba(35,31,32,0.250)"></div>
<div style="left:192px;top:351px;width:1px;height:18px;background:rgba(35,31,32,0.625)"></div>
<div style="left:192px;top:369px;width:1px;height:1px;background:rgba(35,31,32,0.562)"></div>
<div style="left:193px;top:350px;width:1px;height:1px;background:rgba(35,31,32,0.250)"></div>
<div style="left:193px;top:351px;width:1px;height:18px;background:rgba(35,31,32,0.625)"></div>
<div style="left:193px;top:369px;width:1px;height:1px;background:rgba(35,31,32,0.562)"></div>
<div style="left:238px;top:350px;width:1px;height:1px;background:rgba(35,31,32,0.250)"></div>
<div style="left:238px;top:351px;width:1px;height:18px;background:rgba(35,31,32,0.625)"></div>
<div style="left:238px;top:369px;width:1px;height:1px;background:rgba(35,31,32,0.562)"></div>
<div style="left:239px;top:350px;width:1px;height:1px;background:rgba(35,31,32,0.250)"></div>
<div style="left:239px;top:351px;width:1px;height:18px;background:rgba(35,31,32,0.625)"></div>
<div style="left:239px;top:369px;width:1px;height:1px;background:rgba(35,31,32,0.562)"></div>
<div style="left:254px;top:350px;width:1px;height:1px;background:rgba(35,31,32,0.725)"></div>
<div style="left:254px;top:351px;width:1px;height:1px;background:rgba(35,31,32,0.163)"></div>
<div style="left:255px;top:350px;width:21px;height:1px;background:rgba(35,31,32,1.000)"></div>
<div style="left:255px;top:351px;width:21px;height:1px;background:rgba(35,31,32,0.225)"></div>
<div style="left:276px;top:350px;width:1px;height:1px;background:rgba(35,31,32,0.125)"></div>
<div style="left:254px;top:369px;width:1px;height:1px;background:rgba(35,31,32,0.526)"></div>
<div style="left:254px;top:370px;width:1px;height:1px;background:rgba(35,31,32,0.381)"></div>
<div style="left:255px;top:369px;width:21px;height:1px;background:rgba(35,31,32,0.725)"></div>
<div style="left:255px;top:370px;width:21px;height:1px;background:rgba(35,31,32,0.525)"></div>
<div style="left:276px;top:369px;width:1px;height:1px;background:rgba(35,31,32,0.091)"></div>
<div style="left:276px;top:370px;width:1px;height:1px;background:rgba(35,31,32,0.066)"></div>
<div style="left:254px;top:350px;width:1px;height:1px;background:rgba(35,31,32,0.290)"></div>
<div style="left:254px;top:351px;width:1px;height:18px;background:rgba(35,31,32,0.725)"></div>
<div style="left:254px;top:369px;width:1px;height:1px;background:rgba(35,31,32,0.652)"></div>
<div style="left:255px;top:350px;width:1px;height:1px;background:rgba(35,31,32,0.210)"></div>
<div style="left:255px;top:351px;width:1px;height:18px;background:rgba(35,31,32,0.525)"></div>
<div style="left:255px;top:369px;width:1px;height:1px;background:rgba(35,31,32,0.472)"></div>
<div style="left:274px;top:350px;width:1px;height:1px;background:rgba(35,31,32,0.050)"></div>
<div style="left:274px;top:351px;width:1px;height:18px;background:rgba(35,31,32,0.125)"></div>
<div style="left:274px;top:369px;width:1px;height:1px;background:rgba(35,31,32,0.112)"></div>
<div style="left:275px;top:350px;width:1px;height:1px;background:rgba(35,31,32,0.400)"></div>
<div style="left:275px;top:351px;width:1px;height:18px;background:rgba(35,31,32,1.000)"></div>
<div style="left:275px;top:369px;width:1px;height:1px;background:rgba(35,31,32,0.900)"></div>
<div style="left:276px;top:350px;width:1px;height:1px;background:rgba(35,31,32,0.050)"></div>
<div style="left:276px;top:351px;width:1px;height:18px;background:rgba(35,31,32,0.125)"></div>
<div style="left:276px;top:369px;width:1px;height:1px;background:rgba(35,31,32,0.112)"></div>
<div style="left:289px;top:350px;width:1px;height:1px;background:rgba(35,31,32,0.725)"></div>
<div style="left:289px;top:351px;width:1px;height:1px;background:rgba(35,31,32,0.163)"></div>
<div style="left:290px;top:350px;width:21px;height:1px;background:rgba(35,31,32,1.000)"></div>
<div style="left:290px;top:351px;width:21px;height:1px;background:rgba(35,31,32,0.225)"></div>
<div style="left:311px;top:350px;width:1px;height:1px;background:rgba(35,31,32,0.225)"></div>
<div style="left:311px;top:351px;width:1px;height:1px;background:rgba(35,31,32,0.051)"></div>
<div style="left:289px;top:369px;width:1px;height:1px;background:rgba(35,31,32,0.526)"></div>
<div style="left:289px;top:370px;width:1px;height:1px;background:rgba(35,31,32,0.381)"></div>
<div style="left:290px;top:369px;width:21px;height:1px;background:rgba(35,31,32,0.725)"></div>
<div style="left:290px;top:370px;width:21px;height:1px;background:rgba(35,31,32,0.525)"></div>
<div style="left:311px;top:369px;width:1px;height:1px;background:rgba(35,31,32,0.163)"></div>
<div style="left:311px;top:370px;width:1px;height:1px;background:rgba(35,31,32,0.118)"></div>
<div style="left:289px;top:350px;width:1px;height:1px;background:rgba(35,31,32,0.290)"></div>
<div style="left:289px;top:351px;width:1px;height:18px;background:rgba(35,31,32,0.725)"></div>
<div style="left:289px;top:369px;width:1px;height:1px;background:rgba(35,31,32,0.653)"></div>
<div style="left:290px;top:350px;width:1px;height:1px;background:rgba(35,31,32,0.210)"></div>
<div style="left:290px;top:351px;width:1px;height:18px;background:rgba(35,31,32,0.525)"></div>
<div style="left:290px;top:369px;width:1px;height:1px;background:rgba(35,31,32,0.472)"></div>
<div style="left:310px;top:350px;width:1px;height:1px;background:rgba(35,31,32,0.400)"></div>
<div style="left:310px;top:351px;width:1px;height:18px;background:rgba(35,31,32,1.000)"></div>
<div style="left:310px;top:369px;width:1px;height:1px;background:rgba(35,31,32,0.900)"></div>
<div style="left:311px;top:350px;width:1px;height:1px;background:rgba(35,31,32,0.090)"></div>
<div style="left:311px;top:351px;width:1px;height:18px;background:rgba(35,31,32,0.225)"></div>
<div style="left:311px;top:369px;width:1px;height:1px;background:rgba(35,31,32,0.203)"></div>
<div style="left:23px;top:370px;width:1px;height:151px;background:rgba(35,31,32,0.625)"></div>
<div style="left:24px;top:370px;width:1px;height:151px;background:rgba(35,31,32,0.625)"></div>
<div style="left:80px;top:370px;width:1px;height:1px;background:rgba(35,31,32,0.075)"></div>
<div style="left:80px;top:371px;width:1px;height:31px;background:rgba(35,31,32,0.125)"></div>
<div style="left:80px;top:402px;width:1px;height:1px;background:rgba(35,31,32,0.062)"></div>
<div style="left:81px;top:370px;width:1px;height:1px;background:rgba(35,31,32,0.600)"></div>
<div style="left:81px;top:371px;width:1px;height:31px;background:rgba(35,31,32,1.000)"></div>
<div style="left:81px;top:402px;width:1px;height:1px;background:rgba(35,31,32,0.500)"></div>
<div style="left:82px;top:370px;width:1px;height:1px;background:rgba(35,31,32,0.075)"></div>
<div style="left:82px;top:371px;width:1px;height:31px;background:rgba(35,31,32,0.125)"></div>
<div style="left:82px;top:402px;width:1px;height:1px;background:rgba(35,31,32,0.062)"></div>
<div style="left:149px;top:370px;width:1px;height:1px;background:rgba(35,31,32,0.312)"></div>
<div style="left:149px;top:371px;width:1px;height:110px;background:rgba(35,31,32,0.625)"></div>
<div style="left:149px;top:481px;width:1px;height:1px;background:rgba(35,31,32,0.312)"></div>
<div style="left:150px;top:370px;width:1px;height:1px;background:rgba(35,31,32,0.312)"></div>
<div style="left:150px;top:371px;width:1px;height:110px;background:rgba(35,31,32,0.625)"></div>
<div style="left:150px;top:481px;width:1px;height:1px;background:rgba(35,31,32,0.312)"></div>
<div style="left:215px;top:370px;width:1px;height:1px;background:rgba(35,31,32,0.213)"></div>
<div style="left:215px;top:371px;width:1px;height:70px;background:rgba(35,31,32,0.425)"></div>
<div style="left:215px;top:441px;width:1px;height:1px;background:rgba(35,31,32,0.213)"></div>
<div style="left:216px;top:370px;width:1px;height:1px;background:rgba(35,31,32,0.412)"></div>
<div style="left:216px;top:371px;width:1px;height:70px;background:rgba(35,31,32,0.825)"></div>
<div style="left:216px;top:441px;width:1px;height:1px;background:rgba(35,31,32,0.412)"></div>
<div style="left:215px;top:440px;width:1px;height:1px;background:rgba(35,31,32,0.053)"></div>
<div style="left:215px;top:441px;width:1px;height:1px;background:rgba(35,31,32,0.425)"></div>
<div style="left:215px;top:442px;width:1px;height:1px;background:rgba(35,31,32,0.053)"></div>
<div style="left:216px;top:440px;width:41px;height:1px;background:rgba(35,31,32,0.125)"></div>
<div style="left:216px;top:441px;width:41px;height:1px;background:rgba(35,31,32,1.000)"></div>
<div style="left:216px;top:442px;width:41px;height:1px;background:rgba(35,31,32,0.125)"></div>
<div style="left:257px;top:440px;width:1px;height:1px;background:rgba(35,31,32,0.100)"></div>
<div style="left:257px;top:441px;width:1px;height:1px;background:rgba(35,31,32,0.800)"></div>
<div style="left:257px;top:442px;width:1px;height:1px;background:rgba(35,31,32,0.100)"></div>
<div style="left:264px;top:370px;width:1px;height:1px;background:rgba(35,31,32,0.213)"></div>
<div style="left:264px;top:371px;width:1px;height:24px;background:rgba(35,31,32,0.425)"></div>
<div style="left:264px;top:395px;width:1px;height:1px;background:rgba(35,31,32,0.340)"></div>
<div style="left:265px;top:370px;width:1px;height:1px;background:rgba(35,31,32,0.412)"></div>
<div style="left:265px;top:371px;width:1px;height:24px;background:rgba(35,31,32,0.825)"></div>
<div style="left:265px;top:395px;width:1px;height:1px;background:rgba(35,31,32,0.660)"></div>
<div style="left:299px;top:370px;width:1px;height:1px;background:rgba(35,31,32,0.213)"></div>
<div style="left:299px;top:371px;width:1px;height:19px;background:rgba(35,31,32,0.425)"></div>
<div style="left:299px;top:390px;width:1px;height:1px;background:rgba(35,31,32,0.298)"></div>
<div style="left:300px;top:370px;width:1px;height:1px;background:rgba(35,31,32,0.412)"></div>
<div style="left:300px;top:371px;width:1px;height:19px;background:rgba(35,31,32,0.825)"></div>
<div style="left:300px;top:390px;width:1px;height:1px;background:rgba(35,31,32,0.577)"></div>
<div style="left:299px;top:390px;width:1px;height:1px;background:rgba(35,31,32,0.393)"></div>
<div style="left:299px;top:391px;width:1px;height:1px;background:rgba(35,31,32,0.138)"></div>
<div style="left:300px;top:390px;width:46px;height:1px;background:rgba(35,31,32,0.925)"></div>
<div style="left:300px;top:391px;width:46px;height:1px;background:rgba(35,31,32,0.325)"></div>
<div style="left:346px;top:390px;width:1px;height:1px;background:rgba(35,31,32,0.740)"></div>
<div style="left:346px;top:391px;width:1px;height:1px;background:rgba(35,31,32,0.260)"></div>
<div class="t" style="left:-218.70px;width:600px;text-align:center;top:405.70px;font-size:8px;line-height:10.40px;font-weight:400;color:#231f20;-webkit-text-stroke:0.280px #231f20;">气缸缸径</div>
<svg style="position:absolute;left:0;top:0" width="603" height="618"><path d="M78.9 417.6L84.0 422.7M84.0 417.6L78.9 422.7" stroke="#231f20" stroke-width="0.85" fill="none"/></svg>
<div class="t" style="left:-221.10px;width:600px;text-align:center;top:425.60px;font-size:8px;line-height:10.40px;font-weight:400;color:#231f20;-webkit-text-stroke:0.280px #231f20;">行程</div>
<div class="t" style="left:261.50px;top:397.00px;font-size:8px;line-height:10.40px;font-weight:400;color:#231f20;-webkit-text-stroke:0.280px #231f20;">导线长度</div>
<div class="t" style="left:261.50px;top:407.30px;font-size:8px;line-height:10.40px;font-weight:400;color:#231f20;-webkit-text-stroke:0.100px #231f20;"><b><span class="l" style="font-size:1.05em">A</span></b><span style="margin:0 2.4px 0 1.6px"><span class="l" style="font-size:1.05em">:</span></span><span class="l" style="font-size:1.05em">1000mm</span></div>
<div class="t" style="left:261.50px;top:416.70px;font-size:8px;line-height:10.40px;font-weight:400;color:#231f20;-webkit-text-stroke:0.100px #231f20;"><b><span class="l" style="font-size:1.05em">B</span></b><span style="margin:0 2.4px 0 1.6px"><span class="l" style="font-size:1.05em">:</span></span><span class="l" style="font-size:1.05em">3000mm</span></div>
<div class="t" style="left:258.90px;top:436.70px;font-size:8px;line-height:10.40px;font-weight:400;color:#231f20;-webkit-text-stroke:0.280px #231f20;">磁性开关形式</div>
<div class="t" style="left:349.00px;top:385.60px;font-size:8px;line-height:10.40px;font-weight:400;color:#231f20;-webkit-text-stroke:0.280px #231f20;">磁性开关的数量</div>
<div class="t" style="left:349.40px;top:396.00px;font-size:8px;line-height:10.40px;font-weight:400;color:#231f20;-webkit-text-stroke:0.100px #231f20;"><b><span class="l" style="font-size:1.05em">1</span></b></div>
<div style="left:356px;top:399px;width:1px;height:1px;background:rgba(35,31,32,0.560)"></div>
<div style="left:356px;top:400px;width:1px;height:1px;background:rgba(35,31,32,0.140)"></div>
<div style="left:357px;top:399px;width:7px;height:1px;background:rgba(35,31,32,0.800)"></div>
<div style="left:357px;top:400px;width:7px;height:1px;background:rgba(35,31,32,0.200)"></div>
<div class="t" style="left:364.30px;top:396.00px;font-size:8px;line-height:10.40px;font-weight:400;color:#231f20;-webkit-text-stroke:0.100px #231f20;">附带 <b><span class="l" style="font-size:1.05em">1</span></b> 个</div>
<div class="t" style="left:349.40px;top:406.10px;font-size:8px;line-height:10.40px;font-weight:400;color:#231f20;-webkit-text-stroke:0.100px #231f20;"><b><span class="l" style="font-size:1.05em">2</span></b></div>
<div style="left:356px;top:409px;width:1px;height:1px;background:rgba(35,31,32,0.490)"></div>
<div style="left:356px;top:410px;width:1px;height:1px;background:rgba(35,31,32,0.210)"></div>
<div style="left:357px;top:409px;width:7px;height:1px;background:rgba(35,31,32,0.700)"></div>
<div style="left:357px;top:410px;width:7px;height:1px;background:rgba(35,31,32,0.300)"></div>
<div class="t" style="left:364.30px;top:406.10px;font-size:8px;line-height:10.40px;font-weight:400;color:#231f20;-webkit-text-stroke:0.100px #231f20;">附带 <b><span class="l" style="font-size:1.05em">2</span></b> 个</div>
<div class="t" style="left:19.80px;top:523.50px;font-size:8px;line-height:10.40px;font-weight:400;color:#231f20;-webkit-text-stroke:0.280px #231f20;">双活塞杆气缸</div>
<div class="t" style="left:19.80px;top:532.70px;font-size:8px;line-height:10.40px;font-weight:400;color:#231f20;-webkit-text-stroke:0.280px #231f20;"><b><span class="l" style="font-size:1.05em">B</span></b>系列</div>
<div class="t" style="left:19.80px;top:544.20px;font-size:8px;line-height:10.40px;font-weight:400;color:#231f20;-webkit-text-stroke:0.280px #231f20;">双作用型<sup>※<span class="l" style="font-size:1.05em">1</span></sup></div>
<div class="t" style="left:145.30px;top:484.70px;font-size:8px;line-height:10.40px;font-weight:400;color:#231f20;-webkit-text-stroke:0.280px #231f20;">无铜离子式样<sup>※<span class="l" style="font-size:1.05em">2</span></sup></div>
<div class="t" style="left:145.10px;top:503.50px;font-size:8px;line-height:10.40px;font-weight:700;color:#231f20;">空白</div>
<div style="left:164px;top:507px;width:1px;height:1px;background:rgba(35,31,32,0.350)"></div>
<div style="left:164px;top:508px;width:1px;height:1px;background:rgba(35,31,32,0.150)"></div>
<div style="left:165px;top:507px;width:9px;height:1px;background:rgba(35,31,32,0.700)"></div>
<div style="left:165px;top:508px;width:9px;height:1px;background:rgba(35,31,32,0.300)"></div>
<div style="left:174px;top:507px;width:1px;height:1px;background:rgba(35,31,32,0.140)"></div>
<div style="left:174px;top:508px;width:1px;height:1px;background:rgba(35,31,32,0.060)"></div>
<div class="t" style="left:177.80px;top:503.70px;font-size:8px;line-height:10.40px;font-weight:400;color:#231f20;-webkit-text-stroke:0.100px #231f20;">标准式样</div>
<div class="t" style="left:178.50px;top:511.30px;font-size:8px;line-height:10.40px;font-weight:400;color:#231f20;-webkit-text-stroke:0.100px #231f20;"><span style="font-size:1.0em;margin-right:0.6px">Φ</span><span class="l" style="font-size:1.05em">10·</span><span style="font-size:1.0em;margin-right:0.6px">Φ</span><span class="l" style="font-size:1.05em">16·</span><span style="font-size:1.0em;margin-right:0.6px">Φ</span><span class="l" style="font-size:1.05em">20</span></div>
<div class="t" style="left:177.80px;top:523.50px;font-size:8px;line-height:10.40px;font-weight:400;color:#231f20;-webkit-text-stroke:0.100px #231f20;">按标准为</div>
<div class="t" style="left:177.80px;top:532.90px;font-size:8px;line-height:10.40px;font-weight:400;color:#231f20;-webkit-text-stroke:0.100px #231f20;">无铜离子式样</div>
<div class="t" style="left:145.10px;top:545.05px;font-size:9px;line-height:11.70px;font-weight:700;color:#231f20;-webkit-text-stroke:0.161px #231f20;transform:scale(0.9333,0.9333);transform-origin:0 50%;">NCU</div>
<div style="left:165px;top:549px;width:1px;height:1px;background:rgba(35,31,32,0.160)"></div>
<div style="left:165px;top:550px;width:1px;height:1px;background:rgba(35,31,32,0.240)"></div>
<div style="left:166px;top:549px;width:9px;height:1px;background:rgba(35,31,32,0.400)"></div>
<div style="left:166px;top:550px;width:9px;height:1px;background:rgba(35,31,32,0.600)"></div>
<div style="left:175px;top:549px;width:1px;height:1px;background:rgba(35,31,32,0.280)"></div>
<div style="left:175px;top:550px;width:1px;height:1px;background:rgba(35,31,32,0.420)"></div>
<div class="t" style="left:179.60px;top:545.50px;font-size:8px;line-height:10.40px;font-weight:400;color:#231f20;-webkit-text-stroke:0.100px #231f20;"><span style="font-size:1.0em;margin-right:0.6px">Φ</span><span class="l" style="font-size:1.05em">25·</span><span style="font-size:1.0em;margin-right:0.6px">Φ</span><span class="l" style="font-size:1.05em">32</span>的</div>
<div class="t" style="left:177.80px;top:558.70px;font-size:8px;line-height:10.40px;font-weight:400;color:#231f20;-webkit-text-stroke:0.100px #231f20;">无铜离子式样</div>
<div class="t" style="left:177.00px;top:569.70px;font-size:8px;line-height:10.40px;font-weight:400;color:#231f20;-webkit-text-stroke:0.100px #231f20;">（订做）</div>
<div class="t" style="left:258.40px;top:456.00px;font-size:8px;line-height:10.40px;font-weight:700;color:#231f20;">空白</div>
<div style="left:285px;top:458px;width:10px;height:1px;background:rgba(35,31,32,0.200)"></div>
<div style="left:285px;top:459px;width:10px;height:1px;background:rgba(35,31,32,0.800)"></div>
<div style="left:295px;top:458px;width:1px;height:1px;background:rgba(35,31,32,0.060)"></div>
<div style="left:295px;top:459px;width:1px;height:1px;background:rgba(35,31,32,0.240)"></div>
<div class="t" style="left:296.80px;top:456.00px;font-size:8px;line-height:10.40px;font-weight:400;color:#231f20;-webkit-text-stroke:0.100px #231f20;">无磁性开关</div>
<div class="t" style="left:258.40px;top:473.25px;font-size:9px;line-height:11.70px;font-weight:700;color:#231f20;-webkit-text-stroke:0.108px #231f20;transform:scale(0.9222,0.9222);transform-origin:0 50%;">ZE135</div>
<div style="left:285px;top:477px;width:10px;height:1px;background:rgba(35,31,32,0.800)"></div>
<div style="left:285px;top:478px;width:10px;height:1px;background:rgba(35,31,32,0.200)"></div>
<div style="left:295px;top:477px;width:1px;height:1px;background:rgba(35,31,32,0.240)"></div>
<div style="left:295px;top:478px;width:1px;height:1px;background:rgba(35,31,32,0.060)"></div>
<div class="t" style="left:296.80px;top:473.90px;font-size:8px;line-height:10.40px;font-weight:400;color:#231f20;-webkit-text-stroke:0.100px #231f20;"><span class="l" style="font-size:1.05em">2</span>线式、无触点型</div>
<div class="t" style="left:365.80px;top:473.90px;font-size:8px;line-height:10.40px;font-weight:400;color:#231f20;-webkit-text-stroke:0.100px #231f20;">带指示灯</div>
<div class="t" style="left:407.80px;top:471.60px;font-size:8px;line-height:10.40px;font-weight:400;color:#231f20;-webkit-text-stroke:0.100px #231f20;transform:scale(0.9700,1.0000);transform-origin:0 50%;"><span class="l" style="font-size:1.05em">DC10</span>～<span class="l" style="font-size:1.05em">28V</span></div>
<div class="t" style="left:460.10px;top:473.90px;font-size:8px;line-height:10.40px;font-weight:400;color:#231f20;-webkit-text-stroke:0.100px #231f20;">横向引出导线</div>
<div class="t" style="left:258.40px;top:491.15px;font-size:9px;line-height:11.70px;font-weight:700;color:#231f20;-webkit-text-stroke:0.108px #231f20;transform:scale(0.9222,0.9222);transform-origin:0 50%;">ZE235</div>
<div style="left:285px;top:495px;width:10px;height:1px;background:rgba(35,31,32,0.900)"></div>
<div style="left:285px;top:496px;width:10px;height:1px;background:rgba(35,31,32,0.100)"></div>
<div style="left:295px;top:495px;width:1px;height:1px;background:rgba(35,31,32,0.270)"></div>
<div style="left:295px;top:496px;width:1px;height:1px;background:rgba(35,31,32,0.030)"></div>
<div class="t" style="left:296.80px;top:491.80px;font-size:8px;line-height:10.40px;font-weight:400;color:#231f20;-webkit-text-stroke:0.100px #231f20;"><span class="l" style="font-size:1.05em">2</span>线式、无触点型</div>
<div class="t" style="left:365.80px;top:491.80px;font-size:8px;line-height:10.40px;font-weight:400;color:#231f20;-webkit-text-stroke:0.100px #231f20;">带指示灯</div>
<div class="t" style="left:407.80px;top:492.50px;font-size:8px;line-height:10.40px;font-weight:400;color:#231f20;-webkit-text-stroke:0.100px #231f20;transform:scale(0.9700,1.0000);transform-origin:0 50%;"><span class="l" style="font-size:1.05em">DC10</span>～<span class="l" style="font-size:1.05em">28V</span></div>
<div class="t" style="left:460.10px;top:492.30px;font-size:8px;line-height:10.40px;font-weight:400;color:#231f20;-webkit-text-stroke:0.100px #231f20;">向上引出导线</div>
<div class="t" style="left:258.40px;top:510.25px;font-size:9px;line-height:11.70px;font-weight:700;color:#231f20;-webkit-text-stroke:0.108px #231f20;transform:scale(0.9222,0.9222);transform-origin:0 50%;">ZE155</div>
<div style="left:285px;top:514px;width:10px;height:1px;background:rgba(35,31,32,0.800)"></div>
<div style="left:285px;top:515px;width:10px;height:1px;background:rgba(35,31,32,0.200)"></div>
<div style="left:295px;top:514px;width:1px;height:1px;background:rgba(35,31,32,0.240)"></div>
<div style="left:295px;top:515px;width:1px;height:1px;background:rgba(35,31,32,0.060)"></div>
<div class="t" style="left:296.80px;top:510.90px;font-size:8px;line-height:10.40px;font-weight:400;color:#231f20;-webkit-text-stroke:0.100px #231f20;"><span class="l" style="font-size:1.05em">3</span>线式、无触点型</div>
<div class="t" style="left:365.80px;top:510.90px;font-size:8px;line-height:10.40px;font-weight:400;color:#231f20;-webkit-text-stroke:0.100px #231f20;">带指示灯</div>
<div class="t" style="left:407.80px;top:510.50px;font-size:8px;line-height:10.40px;font-weight:400;color:#231f20;-webkit-text-stroke:0.100px #231f20;transform:scale(0.9700,1.0000);transform-origin:0 50%;"><span class="l" style="font-size:1.05em">DC4.5</span>～<span class="l" style="font-size:1.05em">28V</span></div>
<div class="t" style="left:460.10px;top:510.90px;font-size:8px;line-height:10.40px;font-weight:400;color:#231f20;-webkit-text-stroke:0.100px #231f20;">横向引出导线</div>
<div class="t" style="left:258.40px;top:528.15px;font-size:9px;line-height:11.70px;font-weight:700;color:#231f20;-webkit-text-stroke:0.108px #231f20;transform:scale(0.9222,0.9222);transform-origin:0 50%;">ZE255</div>
<div style="left:285px;top:532px;width:10px;height:1px;background:rgba(35,31,32,0.900)"></div>
<div style="left:285px;top:533px;width:10px;height:1px;background:rgba(35,31,32,0.100)"></div>
<div style="left:295px;top:532px;width:1px;height:1px;background:rgba(35,31,32,0.270)"></div>
<div style="left:295px;top:533px;width:1px;height:1px;background:rgba(35,31,32,0.030)"></div>
<div class="t" style="left:296.80px;top:528.80px;font-size:8px;line-height:10.40px;font-weight:400;color:#231f20;-webkit-text-stroke:0.100px #231f20;"><span class="l" style="font-size:1.05em">3</span>线式、无触点型</div>
<div class="t" style="left:365.80px;top:528.80px;font-size:8px;line-height:10.40px;font-weight:400;color:#231f20;-webkit-text-stroke:0.100px #231f20;">带指示灯</div>
<div class="t" style="left:407.80px;top:527.90px;font-size:8px;line-height:10.40px;font-weight:400;color:#231f20;-webkit-text-stroke:0.100px #231f20;transform:scale(0.9700,1.0000);transform-origin:0 50%;"><span class="l" style="font-size:1.05em">DC4.5</span>～<span class="l" style="font-size:1.05em">28V</span></div>
<div class="t" style="left:460.10px;top:529.00px;font-size:8px;line-height:10.40px;font-weight:400;color:#231f20;-webkit-text-stroke:0.100px #231f20;">向上引出导线</div>
<div class="t" style="left:258.40px;top:546.35px;font-size:9px;line-height:11.70px;font-weight:700;color:#231f20;-webkit-text-stroke:0.108px #231f20;transform:scale(0.9222,0.9222);transform-origin:0 50%;">ZE101</div>
<div style="left:285px;top:550px;width:10px;height:1px;background:rgba(35,31,32,0.700)"></div>
<div style="left:285px;top:551px;width:10px;height:1px;background:rgba(35,31,32,0.300)"></div>
<div style="left:295px;top:550px;width:1px;height:1px;background:rgba(35,31,32,0.210)"></div>
<div style="left:295px;top:551px;width:1px;height:1px;background:rgba(35,31,32,0.090)"></div>
<div class="t" style="left:296.80px;top:547.00px;font-size:8px;line-height:10.40px;font-weight:400;color:#231f20;-webkit-text-stroke:0.100px #231f20;"><span class="l" style="font-size:1.05em">2</span>线式、有触点型</div>
<div class="t" style="left:365.80px;top:547.00px;font-size:8px;line-height:10.40px;font-weight:400;color:#231f20;-webkit-text-stroke:0.100px #231f20;">无指示灯</div>
<div class="t" style="left:407.80px;top:541.10px;font-size:8px;line-height:10.40px;font-weight:400;color:#231f20;-webkit-text-stroke:0.100px #231f20;transform:scale(0.9700,1.0000);transform-origin:0 50%;"><span class="l" style="font-size:1.05em">DC5</span>～<span class="l" style="font-size:1.05em">28V</span></div>
<div class="t" style="left:407.80px;top:549.80px;font-size:8px;line-height:10.40px;font-weight:400;color:#231f20;-webkit-text-stroke:0.100px #231f20;transform:scale(0.9700,1.0000);transform-origin:0 50%;"><span class="l" style="font-size:1.05em">AC85</span>～<span class="l" style="font-size:1.05em">115V</span></div>
<div class="t" style="left:460.10px;top:548.00px;font-size:8px;line-height:10.40px;font-weight:400;color:#231f20;-webkit-text-stroke:0.100px #231f20;">横向引出导线</div>
<div class="t" style="left:258.40px;top:565.05px;font-size:9px;line-height:11.70px;font-weight:700;color:#231f20;-webkit-text-stroke:0.108px #231f20;transform:scale(0.9222,0.9222);transform-origin:0 50%;">ZE201</div>
<div style="left:285px;top:569px;width:10px;height:1px;background:rgba(35,31,32,1.000)"></div>
<div style="left:295px;top:569px;width:1px;height:1px;background:rgba(35,31,32,0.300)"></div>
<div class="t" style="left:296.80px;top:565.70px;font-size:8px;line-height:10.40px;font-weight:400;color:#231f20;-webkit-text-stroke:0.100px #231f20;"><span class="l" style="font-size:1.05em">2</span>线式、有触点型</div>
<div class="t" style="left:365.80px;top:565.70px;font-size:8px;line-height:10.40px;font-weight:400;color:#231f20;-webkit-text-stroke:0.100px #231f20;">无指示灯</div>
<div class="t" style="left:407.80px;top:559.80px;font-size:8px;line-height:10.40px;font-weight:400;color:#231f20;-webkit-text-stroke:0.100px #231f20;transform:scale(0.9700,1.0000);transform-origin:0 50%;"><span class="l" style="font-size:1.05em">DC5</span>～<span class="l" style="font-size:1.05em">28V</span></div>
<div class="t" style="left:407.80px;top:569.00px;font-size:8px;line-height:10.40px;font-weight:400;color:#231f20;-webkit-text-stroke:0.100px #231f20;transform:scale(0.9700,1.0000);transform-origin:0 50%;"><span class="l" style="font-size:1.05em">AC85</span>～<span class="l" style="font-size:1.05em">115V</span></div>
<div class="t" style="left:460.10px;top:566.00px;font-size:8px;line-height:10.40px;font-weight:400;color:#231f20;-webkit-text-stroke:0.100px #231f20;">向上引出导线</div>
<div class="t" style="left:258.40px;top:583.35px;font-size:9px;line-height:11.70px;font-weight:700;color:#231f20;-webkit-text-stroke:0.108px #231f20;transform:scale(0.9222,0.9222);transform-origin:0 50%;">ZE102</div>
<div style="left:285px;top:587px;width:10px;height:1px;background:rgba(35,31,32,0.700)"></div>
<div style="left:285px;top:588px;width:10px;height:1px;background:rgba(35,31,32,0.300)"></div>
<div style="left:295px;top:587px;width:1px;height:1px;background:rgba(35,31,32,0.210)"></div>
<div style="left:295px;top:588px;width:1px;height:1px;background:rgba(35,31,32,0.090)"></div>
<div class="t" style="left:296.80px;top:584.00px;font-size:8px;line-height:10.40px;font-weight:400;color:#231f20;-webkit-text-stroke:0.100px #231f20;"><span class="l" style="font-size:1.05em">2</span>线式、有触点型</div>
<div class="t" style="left:365.80px;top:584.00px;font-size:8px;line-height:10.40px;font-weight:400;color:#231f20;-webkit-text-stroke:0.100px #231f20;">带指示灯</div>
<div class="t" style="left:407.80px;top:579.10px;font-size:8px;line-height:10.40px;font-weight:400;color:#231f20;-webkit-text-stroke:0.100px #231f20;transform:scale(0.9700,1.0000);transform-origin:0 50%;"><span class="l" style="font-size:1.05em">DC10</span>～<span class="l" style="font-size:1.05em">28V</span></div>
<div class="t" style="left:407.80px;top:587.70px;font-size:8px;line-height:10.40px;font-weight:400;color:#231f20;-webkit-text-stroke:0.100px #231f20;transform:scale(0.9700,1.0000);transform-origin:0 50%;"><span class="l" style="font-size:1.05em">AC85</span>～<span class="l" style="font-size:1.05em">115V</span></div>
<div class="t" style="left:460.10px;top:584.90px;font-size:8px;line-height:10.40px;font-weight:400;color:#231f20;-webkit-text-stroke:0.100px #231f20;">横向引出导线</div>
<div class="t" style="left:258.40px;top:602.35px;font-size:9px;line-height:11.70px;font-weight:700;color:#231f20;-webkit-text-stroke:0.108px #231f20;transform:scale(0.9222,0.9222);transform-origin:0 50%;">ZE202</div>
<div style="left:285px;top:606px;width:10px;height:1px;background:rgba(35,31,32,0.700)"></div>
<div style="left:285px;top:607px;width:10px;height:1px;background:rgba(35,31,32,0.300)"></div>
<div style="left:295px;top:606px;width:1px;height:1px;background:rgba(35,31,32,0.210)"></div>
<div style="left:295px;top:607px;width:1px;height:1px;background:rgba(35,31,32,0.090)"></div>
<div class="t" style="left:296.80px;top:603.00px;font-size:8px;line-height:10.40px;font-weight:400;color:#231f20;-webkit-text-stroke:0.100px #231f20;"><span class="l" style="font-size:1.05em">2</span>线式、有触点型</div>
<div class="t" style="left:365.80px;top:603.00px;font-size:8px;line-height:10.40px;font-weight:400;color:#231f20;-webkit-text-stroke:0.100px #231f20;">带指示灯</div>
<div class="t" style="left:407.80px;top:598.70px;font-size:8px;line-height:10.40px;font-weight:400;color:#231f20;-webkit-text-stroke:0.100px #231f20;transform:scale(0.9700,1.0000);transform-origin:0 50%;"><span class="l" style="font-size:1.05em">DC10</span>～<span class="l" style="font-size:1.05em">28V</span></div>
<div class="t" style="left:407.80px;top:606.90px;font-size:8px;line-height:10.40px;font-weight:400;color:#231f20;-webkit-text-stroke:0.100px #231f20;transform:scale(0.9700,1.0000);transform-origin:0 50%;"><span class="l" style="font-size:1.05em">AC85</span>～<span class="l" style="font-size:1.05em">115V</span></div>
<div class="t" style="left:460.10px;top:603.20px;font-size:8px;line-height:10.40px;font-weight:400;color:#231f20;-webkit-text-stroke:0.100px #231f20;">向上引出导线</div>
</body></html>
